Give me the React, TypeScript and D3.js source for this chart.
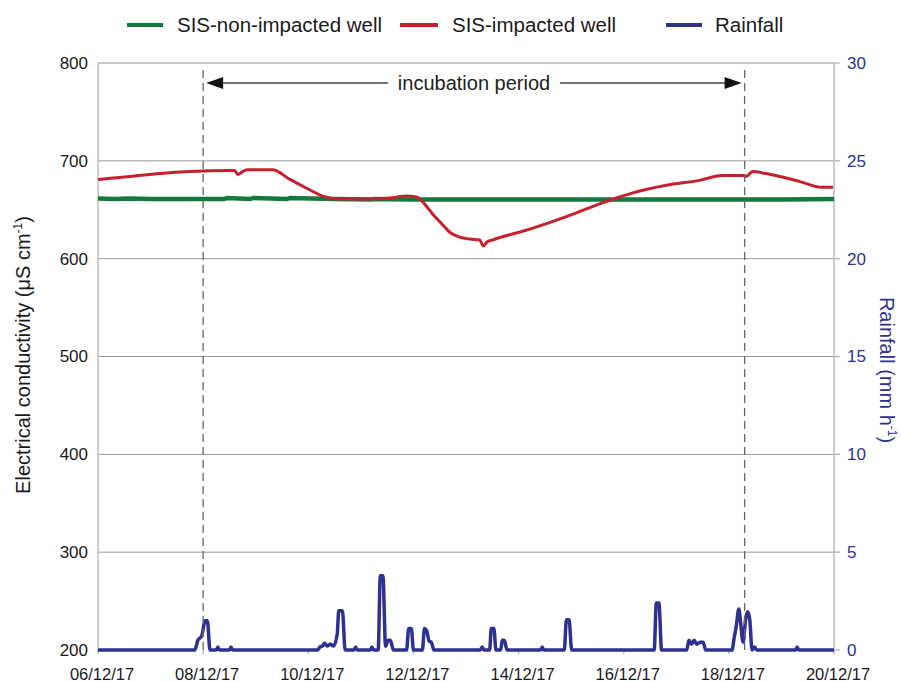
import React from "react";
import * as d3 from "d3";

// ---- data (days since 06/12/17 00:00) ----
const dateTickDays = [0, 2, 4, 6, 8, 10, 12, 14];
const dateTickLabels = ["06/12/17", "08/12/17", "10/12/17", "12/12/17", "14/12/17", "16/12/17", "18/12/17", "20/12/17"];
const ecTicks = [200, 300, 400, 500, 600, 700, 800];
const rainTicks = [0, 5, 10, 15, 20, 25, 30];

const nonImpactedDays = [0, 0.3, 0.6, 1.0, 1.5, 2.4, 2.45, 2.9, 2.95, 3.6, 3.65, 4.5, 5.2, 5.25, 6.0, 7.0, 8.0, 9.0, 10.0, 11.0, 12.0, 13.0, 14.0];
const nonImpactedValues = [661.5, 661, 661.5, 661, 661, 661, 662, 661, 662, 661, 662, 661, 660.5, 661, 660.5, 660.5, 660.5, 660.5, 660.5, 660.5, 660.5, 660.5, 661];

const impactedDays = [0, 0.61, 1.18, 1.75, 2.0, 2.51, 2.6, 2.66, 2.75, 2.83, 3.32, 3.65, 3.97, 4.27, 4.6, 5.22, 5.55, 5.87, 6.06, 6.21, 6.36, 6.55, 6.69, 6.88, 7.07, 7.26, 7.33, 7.4, 7.5, 8.26, 8.91, 9.54, 9.86, 10.16, 10.81, 11.44, 11.87, 12.29, 12.33, 12.45, 12.71, 13.34, 13.77, 13.98];
const impactedValues = [681, 684, 687, 689, 689.5, 690, 690, 686, 689, 691, 691, 681, 672, 664, 661, 661, 662, 664, 663, 656, 646, 635, 627, 622, 620, 619, 613, 617, 619, 631, 643, 656, 662, 667, 675, 680, 685, 685, 684, 689, 687, 679, 673, 673];

const rainDays = [0, 1.84, 1.9, 1.97, 2.04, 2.08, 2.13, 2.25, 2.28, 2.31, 2.5, 2.53, 2.56,
  4.18, 4.22, 4.27, 4.31, 4.36, 4.42, 4.48, 4.55, 4.58, 4.65, 4.7, 4.87, 4.9, 4.93, 5.18, 5.21, 5.24,
  5.33, 5.37, 5.42, 5.47, 5.52, 5.56, 5.62, 5.87, 5.91, 5.96, 6.0, 6.17, 6.21, 6.25, 6.3, 6.34, 6.39,
  7.27, 7.31, 7.34, 7.45, 7.48, 7.53, 7.57, 7.66, 7.69, 7.73, 7.78, 8.42, 8.45, 8.48, 8.87, 8.91, 8.96, 9.01,
  10.58, 10.62, 10.67, 10.72, 11.2, 11.24, 11.29, 11.34, 11.39, 11.46, 11.51, 11.56,
  12.06, 12.1, 12.14, 12.19, 12.22, 12.27, 12.32, 12.36, 12.4, 12.44, 12.49, 12.53, 13.27, 13.3, 13.33, 14];
const rainValues = [0, 0, 0.5, 0.7, 1.5, 1.5, 0, 0, 0.15, 0, 0, 0.15, 0,
  0, 0.15, 0.2, 0.35, 0.2, 0.3, 0.2, 0.8, 2.0, 2.0, 0, 0, 0.15, 0, 0, 0.15, 0,
  0, 3.8, 3.8, 0.2, 0.5, 0.5, 0, 0, 1.1, 1.1, 0, 0, 1.1, 1.0, 0.45, 0.4, 0,
  0, 0.15, 0, 0, 1.1, 1.1, 0, 0, 0.5, 0.5, 0, 0, 0.15, 0, 0, 1.55, 1.55, 0,
  0, 2.4, 2.4, 0, 0, 0.5, 0.3, 0.5, 0.3, 0.4, 0.4, 0,
  0, 0.6, 1.2, 2.1, 1.5, 0.4, 1.6, 1.95, 1.5, 0, 0.15, 0, 0, 0.15, 0, 0];

const incubationStart = 2.0;
const incubationEnd = 12.3;

const GREEN = "#137a3c";
const RED = "#c81f2e";
const BLUE = "#2e3192";
const FONT = "Liberation Sans, Arial, sans-serif";

export default function App() {
  const W = 901, H = 682;
  const left = 98, right = 834, top = 63, bottom = 650;
  const x = d3.scaleLinear().domain([0, 14]).range([left, right]);
  const yL = d3.scaleLinear().domain([200, 800]).range([bottom, top]);
  const yR = d3.scaleLinear().domain([0, 30]).range([bottom, top]);

  const mk = (days: number[], vals: number[], ys: d3.ScaleLinear<number, number>, curve: any) =>
    d3.line<[number, number]>().x(d => x(d[0])).y(d => ys(d[1])).curve(curve)(days.map((d, i) => [d, vals[i]] as [number, number])) || "";

  const greenPath = mk(nonImpactedDays, nonImpactedValues, yL, d3.curveLinear);
  const redPath = mk(impactedDays, impactedValues, yL, d3.curveMonotoneX);
  const rainPath = mk(rainDays, rainValues, yR, d3.curveMonotoneX);

  const xs = x(incubationStart), xe = x(incubationEnd);
  const arrowY = 83;
  const midX = 474;

  return (
    <svg width={W} height={H} style={{ position: "absolute", left: 0, top: 0, background: "#fff" }} fontFamily={FONT}>
      {/* gridlines */}
      {ecTicks.filter(t => t > 200 && t < 800).map(t => (
        <line key={t} x1={left} x2={right} y1={yL(t)} y2={yL(t)} stroke="#9a9a9a" strokeWidth={1} />
      ))}
      <line x1={left} x2={right} y1={yL(800)} y2={yL(800)} stroke="#c8c8c8" strokeWidth={2} />
      {/* axes lines */}
      <line x1={left} x2={left} y1={top} y2={bottom} stroke="#bdbdbd" strokeWidth={1.5} />
      <line x1={right} x2={right} y1={top} y2={bottom} stroke="#bdbdbd" strokeWidth={1.5} />
      {rainTicks.map(t => (
        <line key={t} x1={right} x2={right + 6} y1={yR(t)} y2={yR(t)} stroke="#bdbdbd" strokeWidth={1.5} />
      ))}
      {dateTickDays.map(d => (
        <line key={d} x1={x(d)} x2={x(d)} y1={bottom} y2={bottom + 4} stroke="#bdbdbd" strokeWidth={1.5} />
      ))}
      {/* left tick labels */}
      {ecTicks.map(t => (
        <text key={t} x={88} y={yL(t)} dy="0.35em" textAnchor="end" fontSize={17} fill="#1a1a1a">{t}</text>
      ))}
      {/* right tick labels */}
      {rainTicks.map(t => (
        <text key={t} x={847} y={yR(t)} dy="0.35em" textAnchor="start" fontSize={17} fill={BLUE}>{t}</text>
      ))}
      {/* date labels */}
      {dateTickDays.map((d, i) => (
        <text key={d} x={x(d) + 4} y={680} textAnchor="middle" fontSize={16.5} fill="#1a1a1a">{dateTickLabels[i]}</text>
      ))}
      {/* axis titles */}
      <text transform={`translate(30,355) rotate(-90)`} textAnchor="middle" fontSize={20} fill="#1a1a1a">
        Electrical conductivity (μS cm<tspan fontSize={12} dy={-8}>-1</tspan><tspan dy={8}>)</tspan>
      </text>
      <text transform={`translate(880,370) rotate(90)`} textAnchor="middle" fontSize={20} fill={BLUE}>
        Rainfall (mm h<tspan fontSize={12} dy={-8}>-1</tspan><tspan dy={8}>)</tspan>
      </text>
      {/* series */}
      <path d={greenPath} fill="none" stroke={GREEN} strokeWidth={4.5} />
      <path d={redPath} fill="none" stroke={RED} strokeWidth={3} strokeLinejoin="round" />
      <path d={rainPath} fill="none" stroke={BLUE} strokeWidth={3.5} strokeLinejoin="round" />
      {/* incubation markers */}
      <line x1={xs} x2={xs} y1={70} y2={bottom} stroke="#666" strokeWidth={1.3} strokeDasharray="8,5" />
      <line x1={xe} x2={xe} y1={70} y2={bottom} stroke="#666" strokeWidth={1.3} strokeDasharray="8,5" />
      <line x1={xs + 14} x2={388} y1={arrowY} y2={arrowY} stroke="#444" strokeWidth={1.5} />
      <line x1={560} x2={xe - 14} y1={arrowY} y2={arrowY} stroke="#444" strokeWidth={1.5} />
      <path d={`M${xs + 3},${arrowY} L${xs + 20},${arrowY - 6} L${xs + 20},${arrowY + 6} Z`} fill="#111" />
      <path d={`M${xe - 3},${arrowY} L${xe - 20},${arrowY - 6} L${xe - 20},${arrowY + 6} Z`} fill="#111" />
      <text x={midX} y={arrowY} dy="0.35em" textAnchor="middle" fontSize={20} fill="#222">incubation period</text>
      {/* legend */}
      <line x1={127} x2={163} y1={25} y2={25} stroke={GREEN} strokeWidth={4} />
      <text x={177} y={32} fontSize={20.5} fill="#1a1a1a">SIS-non-impacted well</text>
      <line x1={400} x2={438} y1={25} y2={25} stroke={RED} strokeWidth={4} />
      <text x={452} y={32} fontSize={20.5} fill="#1a1a1a">SIS-impacted well</text>
      <line x1={666} x2={702} y1={25} y2={25} stroke={BLUE} strokeWidth={4} />
      <text x={715} y={32} fontSize={20.5} fill="#1a1a1a">Rainfall</text>
    </svg>
  );
}
